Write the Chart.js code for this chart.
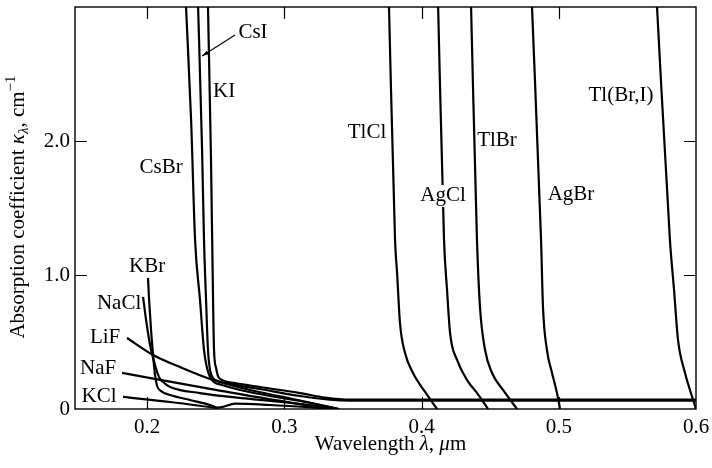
<!DOCTYPE html>
<html>
<head>
<meta charset="utf-8">
<script src="https://cdn.jsdelivr.net/npm/chart.js@4.4.1/dist/chart.umd.min.js"></script>
<style>
  html, body { margin: 0; padding: 0; background: #fff; }
  #wrap { width: 712px; height: 468px; position: relative; }
</style>
</head>
<body>
<div id="wrap"><canvas id="chart"></canvas></div>
<script>
// ===== DATA: [wavelength (um), absorption coefficient (1/cm)] =====
const csBr  = [[0.2284,3.0],[0.2321,2.157],[0.2350,1.261],[0.2386,0.813],[0.2415,0.440],[0.2437,0.306],[0.2459,0.239],[0.2488,0.201],[0.2546,0.179],[0.2678,0.142],[0.2896,0.097],[0.3115,0.060],[0.3392,0.0]];
const csI   = [[0.2372,3.0],[0.2401,1.933],[0.2415,1.261],[0.2430,0.813],[0.2444,0.440],[0.2459,0.291],[0.2481,0.231],[0.2517,0.209],[0.2605,0.187],[0.2823,0.149],[0.3115,0.097],[0.3330,0.070],[0.3480,0.063],[0.6,0.063]];
const kI    = [[0.2444,3.0],[0.2466,1.858],[0.2481,0.813],[0.2488,0.440],[0.2503,0.306],[0.2517,0.246],[0.2546,0.216],[0.2641,0.194],[0.2823,0.164],[0.3115,0.119],[0.3297,0.085],[0.3480,0.070],[0.6,0.070]];
const kBr   = [[0.2007,0.978],[0.2015,0.813],[0.2029,0.590],[0.2044,0.403],[0.2058,0.254],[0.2073,0.172],[0.2102,0.134],[0.2168,0.104],[0.2313,0.067],[0.2459,0.030],[0.2510,0.011],[0.2546,0.014],[0.2641,0.040],[0.2896,0.030],[0.3392,0.0]];
const naCl  = [[0.1971,0.836],[0.1993,0.664],[0.2022,0.478],[0.2058,0.328],[0.2087,0.239],[0.2117,0.201],[0.2168,0.164],[0.2386,0.119],[0.2750,0.075],[0.3115,0.037],[0.3392,0.0]];
const liF   = [[0.1854,0.530],[0.2044,0.403],[0.2240,0.313],[0.2481,0.216],[0.2750,0.142],[0.2991,0.090],[0.3200,0.045],[0.3400,0.0]];
const naF   = [[0.1818,0.269],[0.2500,0.143],[0.3115,0.037],[0.3385,0.0]];
const kCl   = [[0.1825,0.090],[0.2168,0.052],[0.2510,0.007]];
const tlCl  = [[0.3763,3.0],[0.3807,1.261],[0.3822,1.015],[0.3843,0.642],[0.3880,0.418],[0.3938,0.269],[0.4026,0.127],[0.4113,0.0]];
const agCl  = [[0.4121,3.0],[0.4164,1.261],[0.4186,0.888],[0.4208,0.567],[0.4259,0.366],[0.4332,0.216],[0.4405,0.119],[0.4485,0.0]];
const tlBr  = [[0.4361,3.0],[0.4404,1.261],[0.4426,0.761],[0.4463,0.440],[0.4514,0.269],[0.4594,0.142],[0.4696,0.0]];
const agBr  = [[0.4805,3.0],[0.4871,1.261],[0.4885,0.761],[0.4914,0.440],[0.4951,0.269],[0.4987,0.119],[0.5009,0.0]];
const tlBrI = [[0.5716,3.0],[0.5810,1.261],[0.5840,0.888],[0.5869,0.515],[0.5920,0.269],[0.5956,0.142],[0.6000,0.0]];

const curves = [csBr, csI, kI, kBr, naCl, liF, naF, kCl, tlCl, agCl, tlBr, agBr, tlBrI];

// axis ticks
const xTicks = [0.2, 0.3, 0.4, 0.5, 0.6];
const yTicks = [0, 1, 2];
const yTickLabels = ['0', '1.0', '2.0'];

// curve names, placed beside each curve (data coords)
const labelNames = ['CsI', 'KI', 'CsBr', 'KBr', 'NaCl', 'LiF', 'NaF', 'KCl', 'TlCl', 'AgCl', 'TlBr', 'AgBr', 'Tl(Br,I)'];
const labelX     = [0.2772, 0.2561, 0.2102, 0.2000, 0.1796, 0.1694, 0.1643, 0.1650, 0.3603, 0.4157, 0.4550, 0.5089, 0.5454];
const labelY     = [2.813, 2.366, 1.799, 1.067, 0.791, 0.537, 0.299, 0.090, 2.060, 1.590, 2.007, 1.604, 2.343];
const boxedLabels = ['AgCl'];
// leader from the CsI label to its curve
const csILeader = [[0.2641, 2.791], [0.2401, 2.634]];

const SERIF = '"Liberation Serif", "DejaVu Serif", serif';
const FS = 21;

Chart.defaults.font.family = SERIF;
Chart.defaults.font.size = FS;
Chart.defaults.color = '#000';

// draw a run of text pieces with their own fonts / baseline shifts
function drawRuns(ctx, runs, x0, y0) {
  let w = 0;
  runs.forEach(r => { ctx.font = r.font; w += ctx.measureText(r.t).width; });
  let x = x0 - w / 2;
  runs.forEach(r => {
    ctx.font = r.font;
    ctx.fillText(r.t, x, y0 + (r.dy || 0));
    x += ctx.measureText(r.t).width;
  });
}

const decorations = {
  id: 'decorations',
  afterDatasetsDraw(chart) {
    const { ctx, chartArea: a, scales: { x, y } } = chart;
    ctx.save();

    // frame
    ctx.strokeStyle = '#000';
    ctx.lineWidth = 1.4;
    ctx.strokeRect(a.left, a.top, a.right - a.left, a.bottom - a.top);

    // inward tick marks on all four sides
    const TL = 12;
    ctx.lineWidth = 1.2;
    ctx.beginPath();
    xTicks.forEach(v => {
      const px = Math.round(x.getPixelForValue(v)) + 0.5;
      if (px >= a.right - 1) return;
      ctx.moveTo(px, a.bottom); ctx.lineTo(px, a.bottom - TL);
      ctx.moveTo(px, a.top); ctx.lineTo(px, a.top + TL);
    });
    yTicks.forEach(v => {
      const py = Math.round(y.getPixelForValue(v)) + 0.5;
      if (py >= a.bottom - 1) return;
      ctx.moveTo(a.left, py); ctx.lineTo(a.left + TL, py);
      ctx.moveTo(a.right, py); ctx.lineTo(a.right - TL, py);
    });
    ctx.stroke();

    // curve labels
    ctx.font = FS + 'px ' + SERIF;
    ctx.textAlign = 'center';
    ctx.textBaseline = 'middle';
    labelNames.forEach((name, i) => {
      const px = x.getPixelForValue(labelX[i]);
      const py = y.getPixelForValue(labelY[i]);
      if (boxedLabels.includes(name)) {
        const w = ctx.measureText(name).width;
        ctx.fillStyle = '#fff';
        ctx.fillRect(px - w / 2 - 2, py - 11, w + 4, 22);
      }
      ctx.fillStyle = '#000';
      ctx.fillText(name, px, py);
    });

    // CsI leader with small arrow head
    const [p0, p1] = csILeader.map(([vx, vy]) => [x.getPixelForValue(vx), y.getPixelForValue(vy)]);
    ctx.lineWidth = 1.1;
    ctx.beginPath();
    ctx.moveTo(p0[0], p0[1]);
    ctx.lineTo(p1[0], p1[1]);
    ctx.stroke();
    const ang = Math.atan2(p1[1] - p0[1], p1[0] - p0[0]);
    ctx.beginPath();
    ctx.moveTo(p1[0], p1[1]);
    ctx.lineTo(p1[0] - 7 * Math.cos(ang - 0.3), p1[1] - 7 * Math.sin(ang - 0.3));
    ctx.lineTo(p1[0] - 7 * Math.cos(ang + 0.3), p1[1] - 7 * Math.sin(ang + 0.3));
    ctx.closePath();
    ctx.fill();

    // axis titles
    const reg = FS + 'px ' + SERIF;
    const ita = 'italic ' + FS + 'px ' + SERIF;
    const sml = '15px ' + SERIF;
    const smlIta = 'italic 15px ' + SERIF;
    ctx.textAlign = 'left';
    ctx.textBaseline = 'alphabetic';
    drawRuns(ctx, [
      { t: 'Wavelength ', font: reg },
      { t: 'λ', font: ita },
      { t: ', ', font: reg },
      { t: 'μ', font: ita },
      { t: 'm', font: reg }
    ], (a.left + a.right) / 2 + 5, 450);

    ctx.translate(24, 207);
    ctx.rotate(-Math.PI / 2);
    drawRuns(ctx, [
      { t: 'Absorption coefficient ', font: reg },
      { t: 'κ', font: ita },
      { t: 'λ', font: smlIta, dy: 4 },
      { t: ', cm', font: reg },
      { t: '−1', font: sml, dy: -9 }
    ], 0, 0);

    ctx.restore();
  }
};

new Chart(document.getElementById('chart'), {
  type: 'scatter',
  data: {
    datasets: curves.map(pts => ({
      data: pts.map(([x, y]) => ({ x, y })),
      showLine: true,
      borderColor: '#000',
      borderWidth: 2.2,
      pointRadius: 0,
      fill: false,
      cubicInterpolationMode: 'monotone'
    }))
  },
  options: {
    responsive: true,
    maintainAspectRatio: false,
    animation: false,
    events: [],
    layout: { padding: { top: 7, right: 16, left: 0, bottom: 0 } },
    plugins: { legend: { display: false }, tooltip: { enabled: false } },
    scales: {
      x: {
        type: 'linear', min: 0.1475, max: 0.6,
        afterBuildTicks: s => { s.ticks = xTicks.map(v => ({ value: v })); },
        afterFit: s => { s.height = 59; s.paddingLeft = 0; s.paddingRight = 0; },
        ticks: { callback: v => v.toFixed(1), padding: 6, maxRotation: 0, autoSkip: false },
        grid: { display: false, drawTicks: false },
        border: { display: false }
      },
      y: {
        min: 0, max: 3,
        afterBuildTicks: s => { s.ticks = yTicks.map(v => ({ value: v })); },
        afterFit: s => { s.width = 75; s.paddingTop = 0; s.paddingBottom = 0; },
        ticks: { callback: v => yTickLabels[yTicks.indexOf(v)], padding: 5, autoSkip: false },
        grid: { display: false, drawTicks: false },
        border: { display: false }
      }
    }
  },
  plugins: [decorations]
});
</script>
</body>
</html>
